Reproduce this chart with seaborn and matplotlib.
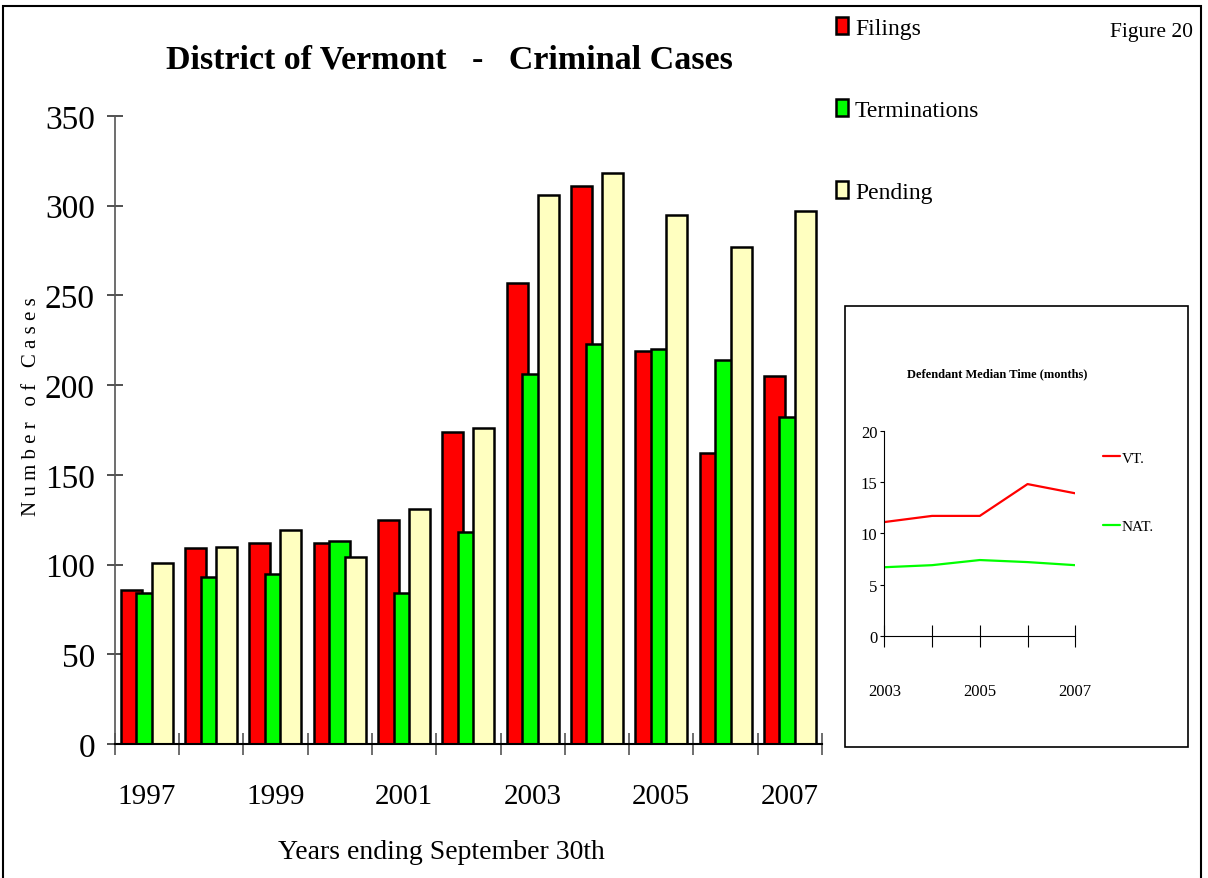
import numpy as np
import pandas as pd
import matplotlib
matplotlib.use("Agg")
import matplotlib.pyplot as plt
from matplotlib.patches import Rectangle
import seaborn as sns

years = list(range(1997, 2008))
filings = [86, 109, 112, 112, 125, 174, 257, 311, 219, 162, 205]
terminations = [84, 93, 95, 113, 84, 118, 206, 223, 220, 214, 182]
pending = [101, 110, 119, 104, 131, 176, 306, 318, 295, 277, 297]
series = ["Filings", "Terminations", "Pending"]
bar_colors = ["#FF0000", "#00FF00", "#FFFFC0"]

inset_years = [2003, 2004, 2005, 2006, 2007]
vt_median = [11.1, 11.7, 11.7, 14.8, 13.9]
nat_median = [6.7, 6.9, 7.4, 7.2, 6.9]
inset_series = ["VT.", "NAT."]
line_colors = ["#FF0000", "#00FF00"]

sns.set_style("white")
plt.rcParams["font.family"] = ["Liberation Serif", "DejaVu Serif"]
for key in ("text.color", "axes.labelcolor", "xtick.color", "ytick.color"):
    plt.rcParams[key] = "black"

W, H = 1208, 879
fig = plt.figure(figsize=(W / 100, H / 100), dpi=100)


def fx(px):
    return px / W


def fy(py):
    return 1 - py / H


# outer border and inset frame
fig.patches.append(Rectangle((fx(3), fy(879) - 0.01), fx(1201 - 3), fy(7) - fy(879) + 0.01,
                             transform=fig.transFigure, fill=False, edgecolor="black", lw=1.5))
fig.patches.append(Rectangle((fx(845), fy(748)), fx(1188 - 845), fy(307) - fy(748),
                             transform=fig.transFigure, fill=False, edgecolor="black", lw=1.2))

# main bar chart
ax = fig.add_axes([fx(114.7), fy(745), fx(822 - 114.7), fy(117) - fy(745)])
df = pd.DataFrame({"year": years, "Filings": filings, "Terminations": terminations,
                   "Pending": pending}).melt(id_vars="year", var_name="series", value_name="cases")
sns.barplot(data=df, x="year", y="cases", hue="series", hue_order=series, palette=bar_colors,
            saturation=1, edgecolor="black", linewidth=1.8, legend=False, ax=ax)

# overlapping bars like the original
width = 0.327
offsets = [-0.241, 0.0, 0.241]
for cont, off in zip(ax.containers, offsets):
    for i, bar in enumerate(cont):
        bar.set_x(i + off - width / 2)
        bar.set_width(width)

ax.set_xlim(-0.5, 10.5)
ax.set_ylim(0, 350)
ax.set_yticks(range(0, 351, 50))
ax.set_xticks(range(0, 11, 2))
ax.set_xticklabels([str(y) for y in years[::2]])
ax.set_xticks(np.arange(-0.5, 11, 1), minor=True)
ax.tick_params(bottom=True, left=True, which="both")
ax.tick_params(axis="x", which="major", length=0, pad=28, labelsize=21)
ax.tick_params(axis="x", which="minor", length=16, direction="inout", width=1.2, color="#555555")
ax.tick_params(axis="y", length=11.5, direction="inout", width=1.2, color="#333333", pad=8.5, labelsize=24)
sns.despine(ax=ax)
ax.spines["left"].set_color("#555555")
ax.spines["left"].set_linewidth(1.2)
ax.spines["bottom"].set_color("black")
ax.spines["bottom"].set_linewidth(1.5)
ax.grid(False)

ax.set_xlabel("Years ending September 30th", fontsize=20)
ax.xaxis.set_label_coords((441 - 114.7) / 707.3, -(853 - 745) / 628)
ax.xaxis.label.set_va("center")
ax.set_ylabel("N u m b e r   o f   C a s e s", fontsize=15)
ax.yaxis.set_label_coords((32 - 114.7) / 707.3, (745 - 407) / 628)
ax.yaxis.label.set_va("center")

fig.text(fx(449), fy(60), "District of Vermont   -   Criminal Cases", ha="center", va="center",
         fontsize=24.5, fontweight="bold")
fig.text(fx(1193), fy(33), "Figure 20", ha="right", va="center", fontsize=15.5)

handles = [c.patches[0] for c in ax.containers]
fig.legend(handles, series, loc="upper left", bbox_to_anchor=(fx(836), fy(18)), frameon=False,
           fontsize=17, handlelength=0.5, handleheight=0.75, handletextpad=0.3,
           labelspacing=2.55, borderaxespad=0, borderpad=0)

# inset line chart
iax = fig.add_axes([fx(884.3), fy(637), fx(1075.3 - 884.3), fy(431.7) - fy(637)])
idf = pd.DataFrame({"year": inset_years, "VT.": vt_median, "NAT.": nat_median}).melt(
    id_vars="year", var_name="court", value_name="months")
sns.lineplot(data=idf, x="year", y="months", hue="court", hue_order=inset_series,
             palette=line_colors, linewidth=1.6, legend=False, ax=iax)
iax.set_xlim(2003, 2007)
iax.set_ylim(0, 20)
iax.set_yticks(range(0, 21, 5))
iax.set_xticks(inset_years)
iax.set_xticklabels(["2003", "", "2005", "", "2007"])
iax.tick_params(bottom=True, left=True)
iax.tick_params(axis="x", length=15.5, direction="inout", width=0.8, pad=26, labelsize=12)
iax.tick_params(axis="y", length=3, direction="out", width=0.8, pad=2, labelsize=12)
sns.despine(ax=iax)
for s in ("left", "bottom"):
    iax.spines[s].set_linewidth(0.8)
    iax.spines[s].set_color("black")
iax.set_xlabel("")
iax.set_ylabel("")
fig.text(fx(997), fy(374), "Defendant Median Time (months)", ha="center", va="center",
         fontsize=9, fontweight="bold")
iax.legend(iax.get_lines(), inset_series, loc="upper left", bbox_to_anchor=(fx(1103), fy(452)),
           bbox_transform=fig.transFigure, frameon=False, fontsize=11, handlelength=1.1,
           handletextpad=0.1, labelspacing=3.6, borderaxespad=0, borderpad=0)

fig.savefig("out.png", dpi=100)
